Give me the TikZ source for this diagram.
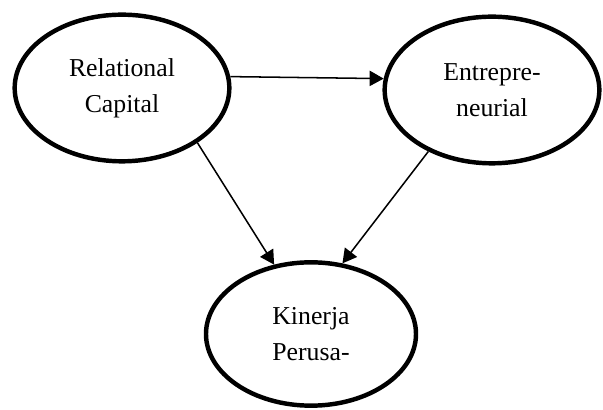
\documentclass[tikz,border=0pt]{standalone}
\usepackage{fontspec}
\setmainfont{Liberation Serif}
\usepackage{tikz}
\usetikzlibrary{positioning, shapes, arrows.meta}
\tikzset{
  factor/.style={ellipse, draw, line width=3.8pt, minimum width=6.44cm, minimum height=4.4cm, inner sep=0pt, align=center, font=\fontsize{22}{31}\selectfont},
  link/.style={line width=1.3pt, -{Triangle[length=12pt, width=13pt]}},
}
\begin{document}
\begin{tikzpicture}
\useasboundingbox (0,0) rectangle (18.09,12.3);
\node[factor] (rc) at (3.66,9.66) {Relational\\ Capital};
\node[factor] (en) at (14.76,9.6) {Entrepre-\\ neurial};
\node[factor, minimum width=6.3cm, minimum height=4.3cm] (kp) at (9.33,2.28) {Kinerja\\ Perusa-};
\draw[link] (rc.6) -- (en.174);
\draw[link] (rc.-36.6) -- (kp.118);
\draw[link] (en.-136) -- (kp.66);
\end{tikzpicture}
\end{document}
